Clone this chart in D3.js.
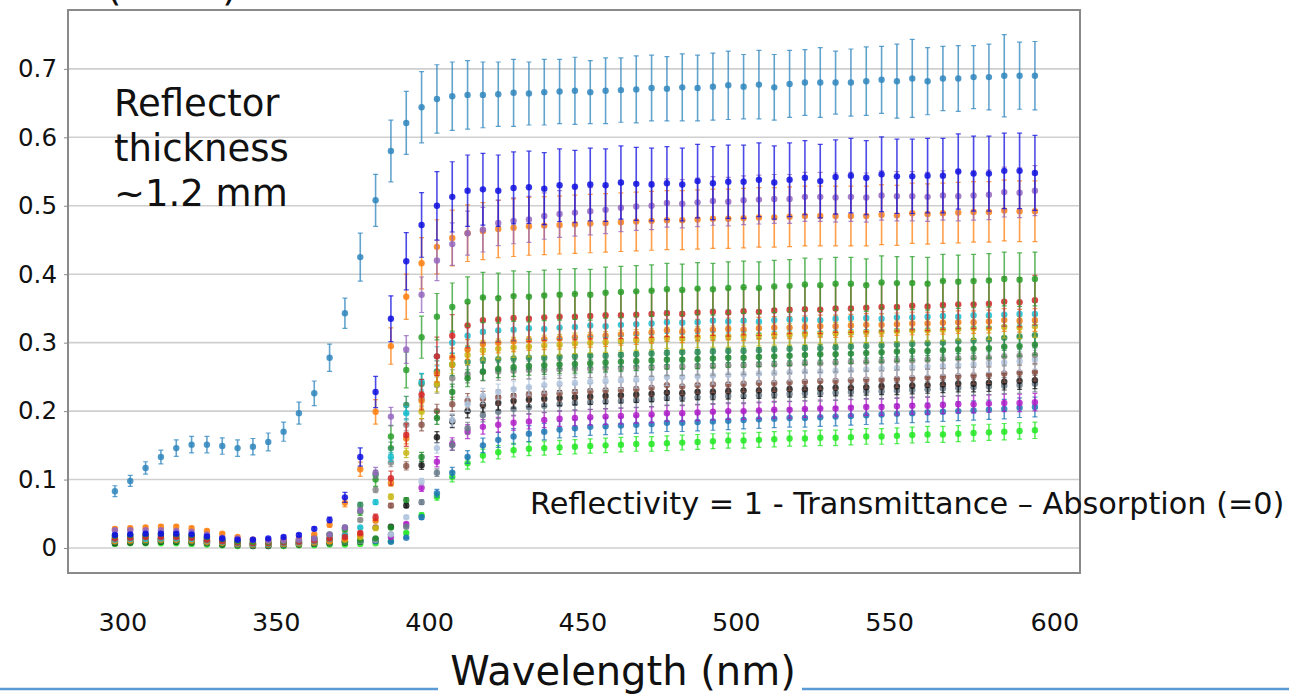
<!DOCTYPE html>
<html>
<head>
<meta charset="utf-8">
<script src="https://cdn.jsdelivr.net/npm/d3@7"></script>
<style>
  html, body { margin: 0; padding: 0; background: #fff; }
  svg { display: block; font-family: "DejaVu Sans", sans-serif; }
</style>
</head>
<body>
<div id="chart"></div>
<script>
// wavelengths, 300..600 nm every 5 nm
const wavelengths = d3.range(300, 605, 5);
const xTicks = [300, 350, 400, 450, 500, 550, 600];
const yTicks = [0, 0.1, 0.2, 0.3, 0.4, 0.5, 0.6, 0.7];

// reflectivity per sample
const topBlue = [0.083, 0.098, 0.117, 0.133, 0.146, 0.151, 0.151, 0.149, 0.146, 0.148,
  0.155, 0.170, 0.197, 0.226, 0.278, 0.343, 0.425, 0.508, 0.580, 0.621,
  0.644, 0.656, 0.660, 0.662, 0.662, 0.663, 0.665, 0.664, 0.666, 0.667,
  0.668, 0.666, 0.668, 0.669, 0.670, 0.672, 0.671, 0.673, 0.672, 0.674,
  0.676, 0.674, 0.677, 0.673, 0.678, 0.680, 0.680, 0.680, 0.680, 0.682,
  0.684, 0.682, 0.686, 0.682, 0.686, 0.686, 0.688, 0.688, 0.690, 0.690, 0.690];
const topBlueErr = [0.008, 0.008, 0.009, 0.010, 0.012, 0.012, 0.012, 0.012, 0.012, 0.012,
  0.013, 0.014, 0.016, 0.018, 0.020, 0.022, 0.035, 0.038, 0.045, 0.046,
  0.052, 0.050, 0.050, 0.050, 0.048, 0.047, 0.049, 0.046, 0.048, 0.047,
  0.049, 0.046, 0.048, 0.047, 0.049, 0.048, 0.047, 0.049, 0.048, 0.049,
  0.050, 0.047, 0.050, 0.048, 0.049, 0.048, 0.051, 0.046, 0.049, 0.050,
  0.049, 0.054, 0.057, 0.049, 0.047, 0.048, 0.046, 0.048, 0.060, 0.049, 0.050];
const blue = [0.019, 0.020, 0.021, 0.021, 0.021, 0.020, 0.017, 0.014, 0.012, 0.012,
  0.014, 0.016, 0.019, 0.028, 0.041, 0.074, 0.133, 0.228, 0.335, 0.419,
  0.472, 0.500, 0.513, 0.522, 0.524, 0.522, 0.526, 0.527, 0.525, 0.530,
  0.528, 0.531, 0.530, 0.534, 0.532, 0.531, 0.533, 0.531, 0.536, 0.533,
  0.535, 0.535, 0.538, 0.534, 0.538, 0.541, 0.536, 0.542, 0.544, 0.541,
  0.546, 0.543, 0.543, 0.544, 0.544, 0.550, 0.547, 0.547, 0.551, 0.551, 0.548];
const purple = [0.026, 0.026, 0.026, 0.026, 0.025, 0.024, 0.020, 0.015, 0.014, 0.012,
  0.011, 0.011, 0.012, 0.014, 0.020, 0.030, 0.055, 0.110, 0.192, 0.290,
  0.370, 0.420, 0.444, 0.460, 0.465, 0.475, 0.478, 0.480, 0.485, 0.488,
  0.490, 0.492, 0.494, 0.497, 0.499, 0.500, 0.504, 0.503, 0.505, 0.507,
  0.506, 0.508, 0.509, 0.510, 0.510, 0.513, 0.513, 0.512, 0.513, 0.512,
  0.515, 0.514, 0.514, 0.513, 0.515, 0.514, 0.515, 0.516, 0.520, 0.519, 0.522];
const orange = [0.028, 0.029, 0.030, 0.031, 0.031, 0.029, 0.025, 0.021, 0.016, 0.012,
  0.011, 0.012, 0.014, 0.020, 0.034, 0.066, 0.115, 0.199, 0.295, 0.367,
  0.416, 0.440, 0.453, 0.460, 0.463, 0.466, 0.468, 0.470, 0.471, 0.472,
  0.473, 0.474, 0.475, 0.476, 0.477, 0.478, 0.479, 0.479, 0.480, 0.481,
  0.481, 0.482, 0.483, 0.483, 0.484, 0.485, 0.485, 0.485, 0.485, 0.485,
  0.487, 0.486, 0.489, 0.488, 0.489, 0.490, 0.491, 0.491, 0.493, 0.492, 0.492];
const green = [0.018, 0.019, 0.020, 0.021, 0.020, 0.019, 0.016, 0.013, 0.010, 0.009,
  0.009, 0.010, 0.012, 0.015, 0.020, 0.027, 0.053, 0.100, 0.163, 0.260,
  0.308, 0.338, 0.352, 0.360, 0.366, 0.365, 0.368, 0.367, 0.369, 0.370,
  0.371, 0.370, 0.373, 0.374, 0.375, 0.376, 0.378, 0.377, 0.379, 0.378,
  0.380, 0.381, 0.380, 0.382, 0.383, 0.385, 0.384, 0.386, 0.386, 0.384,
  0.388, 0.387, 0.387, 0.386, 0.390, 0.389, 0.390, 0.391, 0.393, 0.392, 0.393];
const red = [0.014, 0.015, 0.016, 0.016, 0.016, 0.015, 0.012, 0.010, 0.008, 0.007,
  0.007, 0.008, 0.009, 0.011, 0.014, 0.016, 0.022, 0.045, 0.102, 0.165,
  0.224, 0.280, 0.310, 0.325, 0.333, 0.334, 0.336, 0.335, 0.337, 0.338,
  0.338, 0.339, 0.340, 0.340, 0.341, 0.342, 0.343, 0.342, 0.344, 0.345,
  0.344, 0.346, 0.345, 0.347, 0.348, 0.349, 0.348, 0.350, 0.350, 0.351,
  0.352, 0.352, 0.354, 0.353, 0.355, 0.356, 0.356, 0.357, 0.360, 0.359, 0.362];
const cyan = [0.012, 0.013, 0.013, 0.014, 0.014, 0.013, 0.011, 0.009, 0.007, 0.006,
  0.006, 0.007, 0.008, 0.010, 0.013, 0.018, 0.030, 0.067, 0.133, 0.197,
  0.243, 0.280, 0.300, 0.310, 0.316, 0.318, 0.319, 0.321, 0.320, 0.322,
  0.323, 0.325, 0.324, 0.326, 0.327, 0.328, 0.330, 0.329, 0.330, 0.332,
  0.331, 0.332, 0.331, 0.333, 0.334, 0.334, 0.333, 0.335, 0.336, 0.336,
  0.335, 0.337, 0.337, 0.338, 0.339, 0.338, 0.340, 0.340, 0.341, 0.342, 0.342];
const darkOrange = [0.010, 0.011, 0.012, 0.012, 0.012, 0.011, 0.009, 0.008, 0.006, 0.005,
  0.005, 0.006, 0.007, 0.008, 0.010, 0.013, 0.020, 0.040, 0.095, 0.160,
  0.215, 0.255, 0.278, 0.290, 0.298, 0.300, 0.302, 0.304, 0.305, 0.306,
  0.308, 0.309, 0.310, 0.312, 0.313, 0.315, 0.318, 0.316, 0.318, 0.319,
  0.320, 0.319, 0.321, 0.322, 0.322, 0.323, 0.324, 0.324, 0.325, 0.326,
  0.326, 0.327, 0.328, 0.328, 0.329, 0.330, 0.330, 0.331, 0.333, 0.332, 0.333];
const olive = [0.011, 0.012, 0.012, 0.013, 0.013, 0.012, 0.010, 0.008, 0.007, 0.006,
  0.006, 0.006, 0.007, 0.009, 0.010, 0.012, 0.016, 0.029, 0.075, 0.139,
  0.199, 0.240, 0.268, 0.282, 0.289, 0.291, 0.293, 0.294, 0.296, 0.297,
  0.299, 0.300, 0.301, 0.303, 0.304, 0.305, 0.307, 0.306, 0.308, 0.309,
  0.309, 0.310, 0.311, 0.312, 0.312, 0.313, 0.314, 0.314, 0.315, 0.316,
  0.316, 0.317, 0.318, 0.318, 0.319, 0.320, 0.321, 0.321, 0.323, 0.322, 0.324];
const seaGreen = [0.016, 0.017, 0.018, 0.018, 0.018, 0.017, 0.014, 0.011, 0.009, 0.008,
  0.008, 0.009, 0.011, 0.014, 0.019, 0.030, 0.063, 0.107, 0.146, 0.209,
  0.240, 0.258, 0.268, 0.272, 0.275, 0.276, 0.277, 0.278, 0.278, 0.279,
  0.280, 0.281, 0.281, 0.282, 0.283, 0.284, 0.285, 0.286, 0.286, 0.287,
  0.288, 0.288, 0.289, 0.290, 0.291, 0.292, 0.292, 0.293, 0.294, 0.295,
  0.296, 0.297, 0.298, 0.299, 0.300, 0.302, 0.303, 0.305, 0.307, 0.309, 0.311];
const forestGreen = [0.008, 0.009, 0.009, 0.010, 0.010, 0.009, 0.008, 0.006, 0.005, 0.004,
  0.004, 0.005, 0.006, 0.007, 0.008, 0.009, 0.011, 0.014, 0.030, 0.070,
  0.133, 0.190, 0.228, 0.248, 0.258, 0.262, 0.264, 0.266, 0.267, 0.268,
  0.269, 0.270, 0.271, 0.272, 0.273, 0.274, 0.275, 0.275, 0.276, 0.277,
  0.278, 0.278, 0.279, 0.280, 0.281, 0.282, 0.283, 0.283, 0.284, 0.285,
  0.286, 0.287, 0.288, 0.288, 0.289, 0.290, 0.291, 0.292, 0.294, 0.295, 0.297];
const gray = [0.013, 0.014, 0.015, 0.015, 0.015, 0.014, 0.012, 0.009, 0.007, 0.006,
  0.006, 0.007, 0.009, 0.011, 0.014, 0.020, 0.041, 0.085, 0.125, 0.180,
  0.218, 0.238, 0.248, 0.254, 0.257, 0.258, 0.259, 0.260, 0.260, 0.261,
  0.262, 0.262, 0.263, 0.263, 0.264, 0.264, 0.265, 0.265, 0.266, 0.266,
  0.267, 0.267, 0.268, 0.268, 0.269, 0.270, 0.270, 0.271, 0.272, 0.272,
  0.273, 0.274, 0.274, 0.275, 0.276, 0.277, 0.278, 0.278, 0.280, 0.281, 0.282];
const lightSteel = [0.009, 0.010, 0.010, 0.011, 0.011, 0.010, 0.008, 0.007, 0.005, 0.004,
  0.004, 0.005, 0.006, 0.007, 0.008, 0.009, 0.010, 0.012, 0.020, 0.045,
  0.097, 0.146, 0.187, 0.210, 0.222, 0.228, 0.232, 0.235, 0.238, 0.240,
  0.241, 0.243, 0.244, 0.245, 0.246, 0.248, 0.250, 0.250, 0.251, 0.252,
  0.253, 0.254, 0.255, 0.256, 0.257, 0.258, 0.258, 0.259, 0.260, 0.261,
  0.262, 0.263, 0.264, 0.265, 0.266, 0.267, 0.268, 0.270, 0.271, 0.273, 0.275];
const brown = [0.012, 0.013, 0.013, 0.014, 0.014, 0.013, 0.011, 0.008, 0.006, 0.005,
  0.005, 0.006, 0.008, 0.010, 0.012, 0.014, 0.018, 0.030, 0.062, 0.120,
  0.180, 0.200, 0.210, 0.215, 0.218, 0.220, 0.222, 0.224, 0.225, 0.226,
  0.228, 0.229, 0.230, 0.231, 0.232, 0.234, 0.238, 0.236, 0.238, 0.239,
  0.239, 0.240, 0.241, 0.241, 0.242, 0.243, 0.244, 0.244, 0.245, 0.246,
  0.246, 0.247, 0.248, 0.249, 0.250, 0.251, 0.252, 0.253, 0.255, 0.256, 0.257];
const black = [0.007, 0.008, 0.008, 0.009, 0.009, 0.008, 0.007, 0.005, 0.004, 0.003,
  0.003, 0.004, 0.005, 0.006, 0.007, 0.008, 0.009, 0.012, 0.031, 0.062,
  0.121, 0.162, 0.185, 0.200, 0.209, 0.212, 0.215, 0.217, 0.218, 0.219,
  0.220, 0.221, 0.222, 0.223, 0.224, 0.225, 0.227, 0.226, 0.228, 0.228,
  0.229, 0.230, 0.230, 0.231, 0.232, 0.232, 0.233, 0.234, 0.234, 0.235,
  0.236, 0.236, 0.237, 0.238, 0.239, 0.240, 0.240, 0.241, 0.243, 0.244, 0.245];
const slate = [0.010, 0.011, 0.011, 0.012, 0.012, 0.011, 0.009, 0.007, 0.006, 0.005,
  0.005, 0.006, 0.007, 0.008, 0.009, 0.010, 0.011, 0.013, 0.020, 0.031,
  0.067, 0.110, 0.150, 0.175, 0.194, 0.199, 0.203, 0.206, 0.208, 0.210,
  0.212, 0.213, 0.214, 0.215, 0.216, 0.217, 0.219, 0.219, 0.220, 0.221,
  0.222, 0.222, 0.223, 0.224, 0.225, 0.226, 0.226, 0.227, 0.228, 0.229,
  0.229, 0.230, 0.231, 0.232, 0.233, 0.234, 0.235, 0.236, 0.237, 0.238, 0.240];
const violet = [0.011, 0.012, 0.012, 0.013, 0.013, 0.012, 0.010, 0.008, 0.006, 0.005,
  0.005, 0.006, 0.007, 0.008, 0.009, 0.010, 0.011, 0.012, 0.016, 0.035,
  0.088, 0.126, 0.152, 0.170, 0.177, 0.180, 0.183, 0.185, 0.187, 0.189,
  0.190, 0.191, 0.192, 0.193, 0.194, 0.195, 0.197, 0.197, 0.198, 0.199,
  0.200, 0.200, 0.201, 0.202, 0.202, 0.203, 0.204, 0.204, 0.205, 0.206,
  0.206, 0.207, 0.208, 0.208, 0.209, 0.210, 0.210, 0.211, 0.212, 0.212, 0.213];
const tabBlue = [0.010, 0.011, 0.011, 0.011, 0.011, 0.011, 0.010, 0.009, 0.008, 0.007,
  0.007, 0.007, 0.008, 0.008, 0.009, 0.009, 0.010, 0.010, 0.009, 0.015,
  0.045, 0.080, 0.110, 0.133, 0.150, 0.158, 0.163, 0.167, 0.170, 0.173,
  0.175, 0.177, 0.178, 0.179, 0.180, 0.181, 0.183, 0.183, 0.184, 0.185,
  0.186, 0.187, 0.188, 0.189, 0.190, 0.190, 0.191, 0.192, 0.193, 0.194,
  0.195, 0.196, 0.197, 0.198, 0.199, 0.200, 0.201, 0.202, 0.203, 0.205, 0.206];
const lime = [0.006, 0.007, 0.007, 0.007, 0.007, 0.006, 0.005, 0.004, 0.003, 0.003,
  0.003, 0.003, 0.004, 0.004, 0.005, 0.005, 0.006, 0.007, 0.010, 0.022,
  0.048, 0.075, 0.104, 0.124, 0.135, 0.140, 0.143, 0.145, 0.146, 0.147,
  0.148, 0.149, 0.150, 0.151, 0.152, 0.152, 0.153, 0.154, 0.155, 0.156,
  0.157, 0.157, 0.158, 0.159, 0.160, 0.160, 0.161, 0.161, 0.162, 0.163,
  0.163, 0.164, 0.165, 0.166, 0.166, 0.167, 0.168, 0.169, 0.170, 0.171, 0.172];

// drawing order, colours and relative error bar size
const seriesValues = [lime, tabBlue, violet, slate, black, brown, lightSteel, gray,
  forestGreen, seaGreen, olive, darkOrange, cyan, red, green, orange, purple, blue, topBlue];
const seriesColors = ['#22e822', '#1f77b4', '#b01cc8', '#6a7a8a', '#1a1a1a', '#8c564b', '#b0c4de', '#8a8a8a',
  '#1f8a2a', '#2e8b57', '#c8b814', '#ef7d12', '#17becf', '#d62728', '#2ca02c', '#ff7f0e', '#9467bd', '#1010e0', '#2f86bd'];
const seriesRelErr = [0.07, 0.07, 0.06, 0.05, 0.05, 0.05, 0.05, 0.05,
  0.05, 0.06, 0.05, 0.05, 0.05, 0.1, 0.1, 0.09, 0.07, 0.1, null];

const W = 1289, H = 695;
const svg = d3.select('#chart')
  .append('svg')
  .attr('width', W)
  .attr('height', H);

const defs = svg.append('defs');
defs.append('filter').attr('id', 'soft')
  .append('feGaussianBlur').attr('stdDeviation', 0.55);
defs.append('clipPath').attr('id', 'tinyclip')
  .append('rect').attr('x', 0).attr('y', 579).attr('width', W).attr('height', 4);

const plotLeft = 68, plotRight = 1080, plotTop = 10, plotBottom = 573;

const x = d3.scaleLinear().domain([284.7, 614.7]).range([plotLeft, plotRight]);
const y = d3.scaleLinear().domain([-0.0365, 0.786]).range([plotBottom, plotTop]);

// grid
svg.append('g')
  .selectAll('line')
  .data(yTicks)
  .enter().append('line')
  .attr('x1', plotLeft).attr('x2', plotRight)
  .attr('y1', d => y(d)).attr('y2', d => y(d))
  .attr('stroke', '#cfcfcf')
  .attr('stroke-width', 1.6);

// data
const plot = svg.append('g').attr('filter', 'url(#soft)');

seriesValues.forEach((vals, s) => {
  const color = seriesColors[s];
  const g = plot.append('g');
  const pts = vals.map((v, i) => ({
    w: wavelengths[i],
    v: v,
    e: s === seriesValues.length - 1 ? topBlueErr[i] : v * seriesRelErr[s]
  }));

  g.selectAll('line.bar')
    .data(pts)
    .enter().append('line')
    .attr('class', 'bar')
    .attr('x1', d => x(d.w)).attr('x2', d => x(d.w))
    .attr('y1', d => y(d.v - d.e)).attr('y2', d => y(d.v + d.e))
    .attr('stroke', color)
    .attr('stroke-opacity', 0.75)
    .attr('stroke-width', 1.6);

  g.selectAll('path.cap')
    .data(pts)
    .enter().append('path')
    .attr('class', 'cap')
    .attr('d', d => `M${x(d.w) - 2.5},${y(d.v - d.e)}h5M${x(d.w) - 2.5},${y(d.v + d.e)}h5`)
    .attr('stroke', color)
    .attr('stroke-opacity', 0.75)
    .attr('stroke-width', 1.2);

  g.selectAll('circle')
    .data(pts)
    .enter().append('circle')
    .attr('cx', d => x(d.w))
    .attr('cy', d => y(d.v))
    .attr('r', 3.2)
    .attr('fill', color)
    .attr('fill-opacity', 0.85);
});

// frame
svg.append('rect')
  .attr('x', plotLeft).attr('y', plotTop)
  .attr('width', plotRight - plotLeft).attr('height', plotBottom - plotTop)
  .attr('fill', 'none')
  .attr('stroke', '#8a8a8a')
  .attr('stroke-width', 2);

// y axis
const yAxis = svg.append('g')
  .attr('transform', `translate(${plotLeft},0)`)
  .call(d3.axisLeft(y).tickValues(yTicks).tickSize(4).tickPadding(7)
    .tickFormat(d => d === 0 ? '0' : d.toFixed(1)));
yAxis.select('.domain').remove();
yAxis.selectAll('line').attr('stroke', '#8a8a8a');
yAxis.selectAll('text').attr('font-size', 24.5).attr('fill', '#111')
  .attr('font-family', '"DejaVu Sans", sans-serif');

// x axis: small original ticks
const xAxis = svg.append('g')
  .attr('transform', `translate(0,${plotBottom})`)
  .call(d3.axisBottom(x).tickValues(xTicks).tickSize(5).tickPadding(3));
xAxis.select('.domain').remove();
xAxis.selectAll('line').attr('stroke', '#8a8a8a');
xAxis.selectAll('text').attr('font-size', 10).attr('fill', '#999')
  .attr('font-family', '"DejaVu Sans", sans-serif');
xAxis.attr('clip-path', 'url(#tinyclip)');

// x axis: big labels placed over the slide
svg.append('g')
  .selectAll('text')
  .data(xTicks)
  .enter().append('text')
  .attr('x', (d, i) => x(d) + (i === xTicks.length - 1 ? 20 : 8))
  .attr('y', 631)
  .attr('text-anchor', 'middle')
  .attr('font-size', 25.5)
  .attr('fill', '#111')
  .text(d => d);

// annotations
const note = svg.append('text')
  .attr('x', 114).attr('y', 116)
  .attr('font-size', 37)
  .attr('fill', '#111');
['Reflector', 'thickness', '~1.2 mm'].forEach((t, i) => {
  note.append('tspan').attr('x', 114).attr('dy', i === 0 ? 0 : 45).text(t);
});

svg.append('text')
  .attr('x', 530).attr('y', 514)
  .attr('font-size', 30.3)
  .attr('fill', '#111')
  .text('Reflectivity = 1 - Transmittance \u2013 Absorption (=0)');

// axis title at the bottom of the slide
svg.append('text')
  .attr('x', 623).attr('y', 685)
  .attr('text-anchor', 'middle')
  .attr('font-size', 40)
  .attr('fill', '#111')
  .text('Wavelength (nm)');

// y title, only the bottom of its brackets shows at the top edge
svg.append('text').attr('x', 106).attr('y', 0).attr('font-size', 40).attr('fill', '#111').text('(');
svg.append('text').attr('x', 222).attr('y', 0).attr('font-size', 40).attr('fill', '#111').text(')');

// slide rule lines
svg.append('g')
  .selectAll('line')
  .data([[0, 438], [802, W]])
  .enter().append('line')
  .attr('x1', d => d[0]).attr('x2', d => d[1])
  .attr('y1', 689).attr('y2', 689)
  .attr('stroke', '#5b9bd5')
  .attr('stroke-width', 2.5);
</script>
</body>
</html>
